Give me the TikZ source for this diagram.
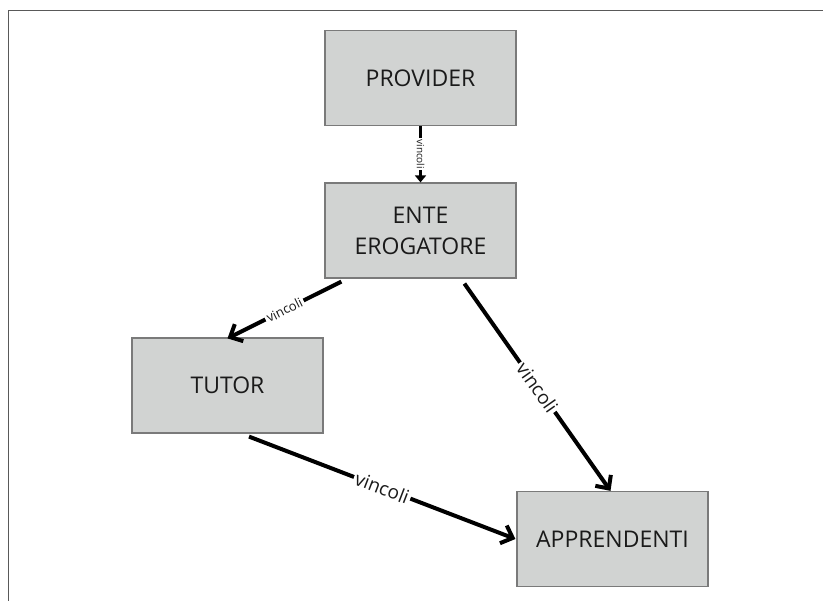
\documentclass[tikz,border=0pt]{standalone}
\usepackage{fontspec}
\setmainfont{Open Sans}
\usetikzlibrary{arrows.meta}
\definecolor{boxfill}{HTML}{D1D3D2}
\definecolor{boxline}{HTML}{7A7A7A}
\definecolor{txt}{HTML}{1A1A1A}
\begin{document}
\begin{tikzpicture}[x=1pt,y=-1pt,
  box/.style={draw=boxline,line width=1.2pt,fill=boxfill,minimum width=191pt,minimum height=95pt,
    inner sep=0pt,align=center,text=txt,font=\fontsize{23}{31}\selectfont},
  conn/.style={line width=4pt,-{Straight Barb[length=10pt,width=19pt,line width=4pt]}},
  lab/.style={fill=white,sloped,inner sep=2pt,text=txt}]
\useasboundingbox (0,0) rectangle (823,601);
\draw[color=black!65,line width=1pt] (8,601) -- (8,10.5) -- (823,10.5);
\node[box] (provider) at (420.5,78) {PROVIDER};
\node[box] (ente) at (420.5,230.5) {ENTE\\EROGATORE};
\node[box] (tutor) at (227.5,385.5) {TUTOR};
\node[box] (appr) at (612.5,539) {APPRENDENTI};
\draw[line width=3.2pt,-{Triangle[length=7pt,width=11pt]}] (provider.south) -- (ente.north)
  node[lab,midway,font=\fontsize{10}{11}\selectfont,inner sep=1pt] {vincoli};
\draw[conn] ([xshift=17pt,yshift=-3pt]ente.south west) -- ([yshift=-1pt]tutor.north)
  node[lab,midway,font=\fontsize{13}{15}\selectfont] {vincoli};
\draw[conn] ([xshift=140pt,yshift=-5pt]ente.south west) -- ([xshift=-2pt]appr.north)
  node[lab,midway,font=\fontsize{19}{21}\selectfont] {vincoli};
\draw[conn] ([xshift=21.5pt,yshift=-3pt]tutor.south) -- ([xshift=-1pt]appr.west)
  node[lab,midway,font=\fontsize{19}{21}\selectfont] {vincoli};
\end{tikzpicture}
\end{document}
